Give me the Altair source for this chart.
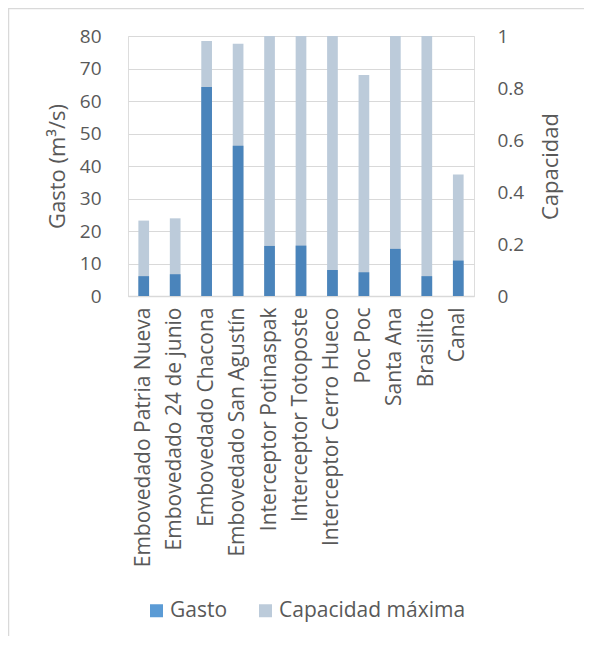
import altair as alt
import pandas as pd

categorias = [
    "Embovedado Patria Nueva", "Embovedado 24 de junio", "Embovedado Chacona",
    "Embovedado San Agustín", "Interceptor Potinaspak", "Interceptor Totoposte",
    "Interceptor Cerro Hueco", "Poc Poc", "Santa Ana", "Brasilito", "Canal",
]
gasto = [6.1, 6.7, 64.3, 46.2, 15.4, 15.5, 8.0, 7.3, 14.5, 6.1, 10.9]
capacidad = [23.2, 23.9, 78.5, 77.6, 80, 80, 80, 68.0, 80, 80, 37.4]
series = ["Gasto", "Capacidad máxima"]
y_ticks = [0, 10, 20, 30, 40, 50, 60, 70, 80]
y2_ticks = [0, 0.2, 0.4, 0.6, 0.8, 1]

df = pd.DataFrame({"cat": categorias, "gasto": gasto, "cap": capacidad})
df["serie_cap"] = series[1]
df["cero"] = 0

FONT = "Open Sans"
TXT = "#595959"
GRID = "#D9D9D9"

xenc = alt.X("cat:N", sort=categorias, title=None,
             scale=alt.Scale(paddingInner=0.66),
             axis=alt.Axis(labelAngle=270, labelAlign="right", labelBaseline="middle",
                           labelFontSize=21, labelFont=FONT, labelColor=TXT,
                           ticks=False, tickSize=0, labelPadding=11,
                           domainColor=GRID, domainWidth=1.5, labelLimit=400))

yscale = alt.Scale(domain=[0, 80], nice=False, zero=True)
yaxis = alt.Axis(values=y_ticks, tickCount=9, title="Gasto (m³/s)", titleFontSize=22,
                 titleFont=FONT, titleFontWeight="normal", titleColor=TXT, titlePadding=10,
                 labelFontSize=19, labelFont=FONT, labelColor=TXT, labelPadding=27,
                 labelOverlap=False, domain=False, ticks=False, tickSize=0,
                 gridColor=GRID, gridWidth=1.2)

cap_bars = alt.Chart(df).mark_bar().encode(
    x=xenc,
    y=alt.Y("cap:Q", scale=yscale, axis=yaxis),
    color=alt.Color("serie_cap:N",
                    scale=alt.Scale(domain=series, range=["#5B9BD5", "#BCCBDA"]),
                    legend=alt.Legend(title=None, orient="none", direction="horizontal",
                                      legendX=18, legendY=564, padding=0,
                                      symbolType="square", symbolSize=169,
                                      symbolStrokeWidth=0, labelFontSize=21,
                                      labelFont=FONT, labelColor=TXT, labelOffset=3,
                                      labelLimit=400, columnPadding=27)),
)
gasto_bars = alt.Chart(df).mark_bar(color="#4A84BB").encode(
    x=xenc,
    y=alt.Y("gasto:Q", scale=yscale, axis=yaxis),
)

right = alt.Chart(df).mark_point(opacity=0).encode(
    x=xenc,
    y=alt.Y("cero:Q", scale=alt.Scale(domain=[0, 1], nice=False),
            axis=alt.Axis(orient="right", values=y2_ticks, format=".1~f", grid=False,
                          title="Capacidad", titleAngle=270, titleBaseline="top",
                          titleFontSize=22, titleFont=FONT, titleFontWeight="normal",
                          titleColor=TXT, titlePadding=17, labelFontSize=19,
                          labelFont=FONT, labelColor=TXT, labelPadding=23,
                          labelOverlap=False, domain=False, ticks=False, tickSize=0)),
)

border = alt.Chart(alt.Data(values=[{}]))
left_line = border.mark_rule(color=GRID, strokeWidth=1.5).encode(
    x=alt.value(-119.5), y=alt.value(-28), y2=alt.value(610))
top_line = border.mark_rule(color=GRID, strokeWidth=1.5).encode(
    x=alt.value(-120), x2=alt.value(456), y=alt.value(-27.5))

chart = alt.layer(
    alt.layer(cap_bars, gasto_bars),
    right,
    left_line,
    top_line,
).resolve_scale(y="independent").properties(
    width=346, height=260,
    autosize=alt.AutoSizeParams(type="none"),
    padding={"left": 120, "top": 28, "right": 110, "bottom": 340},
).configure_view(stroke=GRID, strokeWidth=1.2).configure(background="white")

chart.save("out.html", embed_options={"renderer": "svg", "actions": False})
